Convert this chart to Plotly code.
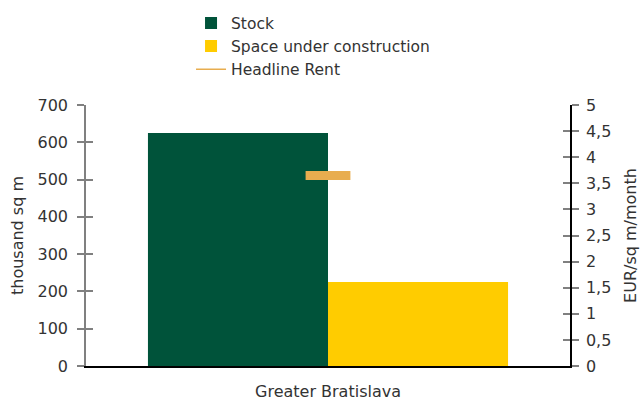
import plotly.graph_objects as go

# Office market figures
categories = ["Greater Bratislava"]
stock = [625]
under_construction = [225]
headline_rent = [3.65]

green = "#00533A"
yellow = "#FFCC00"
orange = "#E8AD4F"
font_family = "'DejaVu Sans', sans-serif"
text_color = "#333333"
font_size = 16

fig = go.Figure()

fig.add_trace(go.Bar(x=categories, y=stock, name="Stock",
                     marker=dict(color=green, line=dict(width=0))))
fig.add_trace(go.Bar(x=categories, y=under_construction, name="Space under construction",
                     marker=dict(color=yellow, line=dict(width=0))))
# Rent shown as a short horizontal marker on the secondary axis
fig.add_trace(go.Scatter(x=categories, y=headline_rent, yaxis="y2", mode="markers",
                         showlegend=False, name="Headline Rent",
                         marker=dict(symbol="line-ew", size=32,
                                     line=dict(color=orange, width=9))))
# Legend entry for the rent, drawn as a thin line
fig.add_trace(go.Scatter(x=categories, y=[None], yaxis="y2", mode="lines",
                         name="Headline Rent", line=dict(color=orange, width=1.5)))

axis_font = dict(family=font_family, size=font_size, color=text_color)

fig.update_layout(
    width=642, height=403,
    margin=dict(l=86, r=72, t=105, b=37, autoexpand=False),
    paper_bgcolor="white", plot_bgcolor="white",
    barmode="group", bargap=0.256, bargroupgap=0,
    separators=", ",
    font=dict(family=font_family, size=font_size, color=text_color),
    showlegend=True,
    legend=dict(x=0.217, y=1.378, xanchor="left", yanchor="top",
                font=dict(family=font_family, size=15.5, color=text_color),
                tracegroupgap=0, bgcolor="rgba(0,0,0,0)", itemwidth=30),
    xaxis=dict(type="category", range=[-0.5, 0.5], showline=True, linecolor="#000000",
               linewidth=1.5, ticks="", tickfont=axis_font, showgrid=False,
               zeroline=False, ticklabelstandoff=10, automargin=False),
    yaxis=dict(range=[0, 700], dtick=100, tick0=0, showline=True, linecolor="#808080",
               linewidth=1.5, ticks="outside", ticklen=7, tickcolor="#808080",
               tickwidth=1.5, showgrid=False, zeroline=False, tickfont=axis_font,
               ticklabelstandoff=6, automargin=False,
               title=dict(text="thousand sq m", font=axis_font, standoff=10)),
    yaxis2=dict(range=[0, 5], dtick=0.5, tick0=0, overlaying="y", side="right",
                showline=True, linecolor="#000000", linewidth=1.5, ticks="outside",
                ticklen=7, tickcolor="#808080", tickwidth=1.5, showgrid=False,
                zeroline=False, tickfont=axis_font, ticklabelstandoff=4,
                automargin=False,
                title=dict(text="EUR/sq m/month", font=axis_font, standoff=14)),
    # inner halves of the crossing tick marks
    yaxis3=dict(range=[0, 700], dtick=100, tick0=0, overlaying="y", side="left",
                ticks="inside", ticklen=7, tickcolor="#808080", tickwidth=1.5,
                showticklabels=False, showgrid=False, zeroline=False, showline=False,
                automargin=False),
    yaxis4=dict(range=[0, 5], dtick=0.5, tick0=0, overlaying="y", side="right",
                ticks="inside", ticklen=7, tickcolor="#808080", tickwidth=1.5,
                showticklabels=False, showgrid=False, zeroline=False, showline=False,
                automargin=False),
)

# Anchor traces to the tick-only axes so they are rendered
fig.add_trace(go.Scatter(x=categories, y=[None], yaxis="y3", showlegend=False,
                         hoverinfo="skip"))
fig.add_trace(go.Scatter(x=categories, y=[None], yaxis="y4", showlegend=False,
                         hoverinfo="skip"))

fig.write_html("out.html")
